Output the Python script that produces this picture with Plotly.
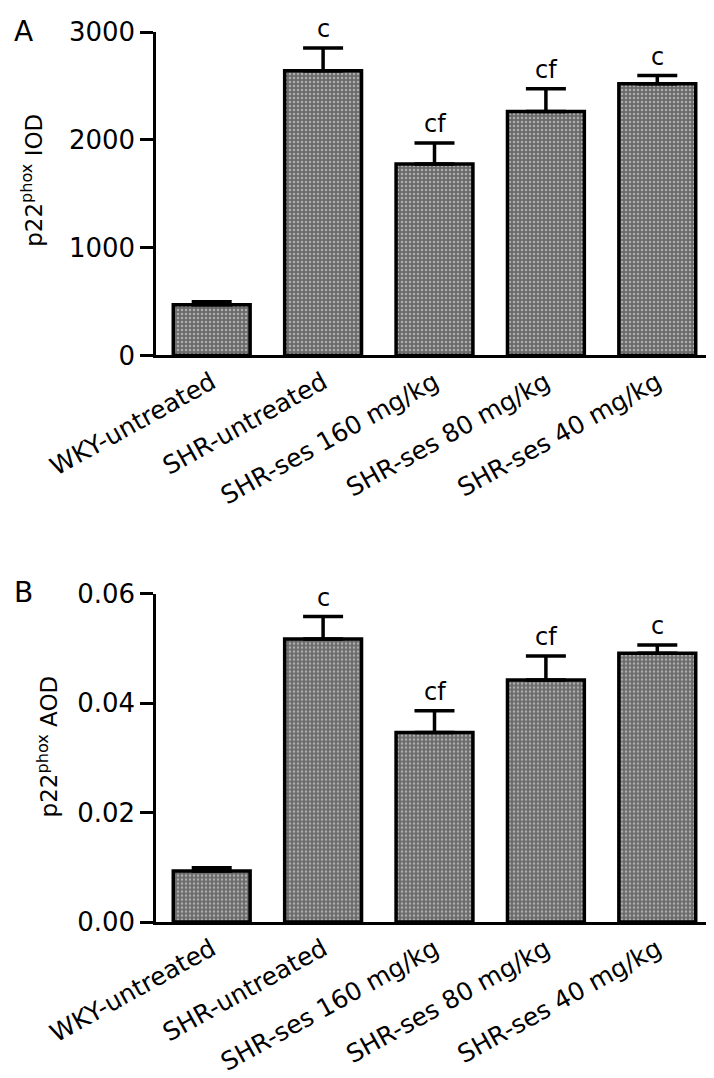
import plotly.graph_objects as go

GROUPS = ['WKY-untreated', 'SHR-untreated', 'SHR-ses 160 mg/kg',
          'SHR-ses 80 mg/kg', 'SHR-ses 40 mg/kg']

IOD_MEAN = [470, 2640, 1775, 2263, 2521]
IOD_ERR = [27, 212, 195, 210, 75]

AOD_MEAN = [0.0093, 0.0517, 0.0346, 0.0442, 0.0491]
AOD_ERR = [0.0006, 0.0041, 0.0040, 0.0044, 0.0015]

SIG_LABELS = ['', 'c', 'cf', 'cf', 'c']

IOD_TICKS = [0, 1000, 2000, 3000]
AOD_TICKS = [0.0, 0.02, 0.04, 0.06]

# Page geometry
W, H = 714, 1078
M = dict(l=148, r=9, t=23, b=158)
FONT = 'DejaVu Sans'
BAR_FILL = '#6a6a6a'


def px_to_paper_x(px):
    return (px - M['l']) / (W - M['l'] - M['r'])


def px_to_paper_y(py):
    return (H - M['b'] - py) / (H - M['t'] - M['b'])


def bar_trace(values, errors, xa, ya):
    return go.Bar(
        x=GROUPS,
        y=values,
        xaxis=xa,
        yaxis=ya,
        width=0.69,
        marker=dict(
            color=BAR_FILL,
            line=dict(color='black', width=3.5),
            pattern=dict(shape='.', fgcolor='#f2f2f2', size=4, solidity=0.3),
        ),
        error_y=dict(
            type='data', symmetric=False, array=errors,
            arrayminus=[0] * len(errors),
            color='black', thickness=3.5, width=20,
        ),
        showlegend=False,
    )


fig = go.Figure()
fig.add_trace(bar_trace(IOD_MEAN, IOD_ERR, 'x', 'y'))
fig.add_trace(bar_trace(AOD_MEAN, AOD_ERR, 'x2', 'y2'))

# significance letters above the error caps
for i, lab in enumerate(SIG_LABELS):
    if not lab:
        continue
    fig.add_annotation(x=GROUPS[i], y=IOD_MEAN[i] + IOD_ERR[i], xref='x', yref='y',
                       text=lab, showarrow=False, yanchor='bottom', yshift=3,
                       font=dict(family=FONT, size=24, color='black'))
    fig.add_annotation(x=GROUPS[i], y=AOD_MEAN[i] + AOD_ERR[i], xref='x2', yref='y2',
                       text=lab, showarrow=False, yanchor='bottom', yshift=3,
                       font=dict(family=FONT, size=24, color='black'))

# panel letters and y titles
for txt, px, py in [('A', 15, 22), ('B', 15, 588)]:
    fig.add_annotation(x=px_to_paper_x(px), y=px_to_paper_y(py), xref='paper', yref='paper',
                       text=txt, showarrow=False, xanchor='center', yanchor='middle',
                       font=dict(family=FONT, size=28, color='black'))

for txt, px, py in [('p22<sup>phox</sup> IOD', 24, 173), ('p22<sup>phox</sup> AOD', 40, 743)]:
    fig.add_annotation(x=px_to_paper_x(px), y=px_to_paper_y(py), xref='paper', yref='paper',
                       text=txt, textangle=-90, showarrow=False,
                       xanchor='center', yanchor='middle',
                       font=dict(family=FONT, size=23, color='black'))

x_common = dict(
    range=[-0.5, 4.5], showline=True, linewidth=2.5, linecolor='black',
    ticks='', tickangle=-29, showgrid=False, zeroline=False,
    tickfont=dict(family=FONT, size=25, color='black'),
)
y_common = dict(
    showline=True, linewidth=2.5, linecolor='black', ticks='outside',
    ticklen=13, tickwidth=2.5, tickcolor='black', showgrid=False, zeroline=False,
    tickfont=dict(family=FONT, size=26, color='black'),
)

fig.update_layout(
    width=W,
    height=H,
    margin=M,
    plot_bgcolor='white',
    paper_bgcolor='white',
    font=dict(family=FONT, color='black'),
    xaxis=dict(**x_common, domain=[0, 1], anchor='y'),
    yaxis=dict(**y_common, domain=[px_to_paper_y(349), 1], anchor='x',
               range=[0, 3000], tickvals=IOD_TICKS),
    xaxis2=dict(**x_common, domain=[0, 1], anchor='y2'),
    yaxis2=dict(**y_common, domain=[0, px_to_paper_y(589)], anchor='x2',
                range=[0, 0.06], tickvals=AOD_TICKS, tickformat='.2f'),
)

fig.write_html('out.html')
